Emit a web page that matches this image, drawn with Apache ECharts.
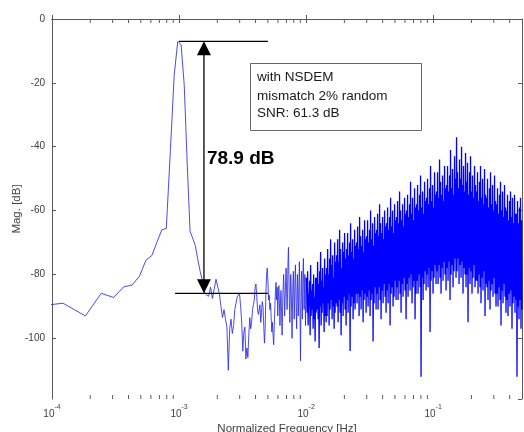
<!DOCTYPE html>
<html>
<head>
<meta charset="utf-8">
<script src="https://cdn.jsdelivr.net/npm/echarts@6/dist/echarts.min.js"></script>
<style>
  html, body { margin: 0; padding: 0; background: #fff; }
  #chart { width: 524px; height: 432px; }
</style>
</head>
<body>
<div id="chart"></div>
<script>
// FFT length of the simulated output (bin k sits at k / fftLength)
const fftLength = 16384;

// Low-frequency bins: noise floor, signal tone and its leakage skirt
const lowBins = [1, 2, 3, 4, 5, 6, 7, 8, 9, 10, 11, 12, 13,
                 14, 15, 16, 17, 18, 19, 20, 21, 22, 23, 24, 25, 26];
const lowMag = [-90.4, -89.0, -93.0, -85.9, -87.2, -83.9, -83.3, -80.5, -75.5, -74.1, -69.8, -66.0, -65.6,
                -41.2, -17.6, -7.0, -8.0, -20.8, -45.5, -66.5, -68.7, -71.0, -75.3, -79.0, -82.0, -85.5];

// Bins 27 .. 164 (one value per bin)
const midStartBin = 27;
const midMag = [
  -86.5, -86.8, -84.0, -87.5, -84.5, -81.5, -81.0, -86.0, -90.0, -93.5,
  -91.0, -94.0, -96.5, -110.0, -97.0, -94.0, -98.5, -96.0, -91.0, -89.0,
  -87.0, -86.5, -86.0, -90.0, -95.0, -104.0, -98.0, -96.5, -106.5, -103.0,
  -106.0, -99.0, -93.5, -97.0, -95.0, -91.0, -89.5, -88.0, -84.0, -83.0,
  -87.0, -91.0, -92.5, -92.0, -89.5, -95.0, -92.0, -88.5, -90.0, -96.0,
  -101.5, -97.0, -86.0, -80.0, -78.0, -82.0, -88.0, -86.5, -91.0, -89.0,
  -93.5, -98.0, -95.0, -99.0, -102.0, -96.0, -90.0, -85.0, -82.5, -88.0,
  -84.0, -93.0, -87.0, -83.5,
  -89, -96, -88, -85, -92, -99, -90, -84, -80, -86,
  -93, -88, -82, -78, -85, -91, -86, -76, -71.5, -80,
  -90, -95, -86, -80, -84, -92, -100, -89, -83, -79,
  -86, -94, -88, -81, -77, -84, -92, -97, -87, -80,
  -85, -93, -89, -82, -76, -83, -95, -107, -92, -84,
  -79, -87, -94, -86, -78, -75, -83, -91, -86, -80,
  -88, -96, -89, -81
];

// Shaped quantisation noise from 0.01 to 0.5, on a log-spaced grid:
// upper and lower excursions of the trace, drawn alternately
const denseStart = 0.01;
const denseEnd = 0.5;
const denseUpper = [
  -84,-79,-86,-82,-77,-85,-83,-80,-87,-81,
  -81,-76,-83,-79,-73,-82,-78,-84,-75,-80,
  -78,-72,-80,-75,-69,-77,-74,-81,-70,-76,
  -74,-69,-76,-66,-72,-78,-70,-73,-67,-75,
  -72,-67,-74,-70,-64,-73,-69,-75,-66,-71,
  -70,-65,-72,-62,-68,-71,-66,-73,-63,-69,
  -68,-63,-70,-66,-60,-69,-64,-71,-62,-67,
  -66,-61,-68,-58,-64,-67,-62,-69,-60,-65,
  -64,-59,-66,-62,-56,-65,-60,-67,-58,-63,
  -62,-57,-64,-54,-60,-63,-58,-65,-56,-61,
  -60,-55,-62,-58,-51,-61,-56,-63,-53,-59,
  -58,-52,-60,-55,-49,-59,-54,-61,-51,-57,
  -56,-50,-58,-53,-46,-57,-52,-59,-48,-55,
  -54,-48,-56,-44,-51,-55,-49,-57,-46,-53,
  -52,-46,-54,-49,-41,-53,-47,-55,-43,-50,
  -37,-48,-53,-44,-50,-40,-52,-46,-54,-42,
  -51,-45,-55,-48,-43,-54,-49,-56,-46,-52,
  -54,-48,-57,-51,-46,-56,-50,-58,-47,-55,
  -56,-50,-59,-53,-48,-58,-52,-60,-49,-57,
  -58,-53,-61,-55,-51,-60,-54,-62,-52,-59,
  -60,-55,-63,-57,-54,-62,-56,-64,-55,-61,
  -61,-57,-64,-59,-56,-63
];
const denseLower = [
  -92,-96,-90,-99,-93,-91,-97,-94,-101,-92,
  -91,-94,-103,-90,-96,-92,-89,-98,-93,-95,
  -93,-89,-96,-91,-88,-94,-90,-97,-92,-89,
  -90,-95,-88,-92,-99,-89,-93,-87,-91,-96,
  -88,-92,-86,-104,-90,-87,-94,-89,-91,-86,
  -89,-86,-93,-87,-91,-85,-95,-88,-86,-92,
  -87,-90,-85,-93,-88,-86,-101,-89,-84,-91,
  -86,-91,-84,-88,-94,-85,-89,-83,-87,-92,
  -85,-89,-83,-96,-86,-84,-90,-87,-82,-88,
  -84,-88,-82,-86,-92,-83,-87,-81,-85,-94,
  -83,-87,-81,-85,-80,-89,-84,-82,-94,-86,
  -82,-86,-80,-84,-112,-81,-88,-83,-79,-85,
  -80,-84,-78,-98,-82,-79,-86,-81,-77,-83,
  -79,-83,-77,-81,-86,-78,-82,-76,-80,-85,
  -78,-82,-76,-88,-80,-77,-84,-79,-75,-81,
  -79,-75,-83,-77,-81,-76,-86,-78,-80,-84,
  -80,-95,-78,-83,-79,-86,-81,-77,-84,-82,
  -82,-86,-80,-84,-89,-81,-85,-79,-93,-83,
  -84,-88,-82,-91,-85,-83,-87,-81,-86,-90,
  -86,-90,-84,-88,-96,-85,-89,-83,-87,-92,
  -88,-93,-86,-90,-85,-97,-89,-87,-92,-88,
  -112,-90,-94,-88,-97,-91
];

// Axis ranges and tick values
const xMin = 1e-4, xMax = 0.5;
const yMin = -119, yMax = 0;
const minorDecades = [1e-4, 1e-3, 1e-2, 1e-1];
const minorFactors = [2, 3, 4, 5, 6, 7, 8, 9];

// Peak-to-floor annotation
const spanDb = 78.9;
const topGuide = [1.0e-3, 5.0e-3];
const bottomGuide = [9.3e-4, 5.0e-3];
const arrowFreq = 1.57e-3;

// Note box text
const noteLines = ['with NSDEM', 'mismatch 2% random', 'SNR: 61.3 dB'];

// ---- build series data ----
const sparse = [];
lowBins.forEach((k, i) => sparse.push([k / fftLength, lowMag[i]]));
midMag.forEach((v, i) => sparse.push([(midStartBin + i) / fftLength, v]));

const dense = [sparse[sparse.length - 1]];
const lg0 = Math.log10(denseStart), lg1 = Math.log10(denseEnd);
const nDense = denseUpper.length * 2;
denseUpper.forEach((u, i) => {
  dense.push([Math.pow(10, lg0 + (lg1 - lg0) * (2 * i + 1) / nDense), u]);
  dense.push([Math.pow(10, lg0 + (lg1 - lg0) * (2 * i + 2) / nDense), denseLower[i]]);
});

const peakDb = Math.max.apply(null, lowMag);
const floorDb = peakDb - spanDb;

const minorTicks = [];
minorDecades.forEach(d => minorFactors.forEach(m => {
  const v = d * m;
  if (v > xMin && v < xMax) minorTicks.push([v, yMin]);
}));

const axisColor = '#5a5a5a';
const labelColor = '#404040';
const tickLen = 4;
const fontFamily = '"Liberation Sans", Arial, sans-serif';

const chart = echarts.init(document.getElementById('chart'), null, { renderer: 'canvas' });

const lineSeries = (name, data, width, color) => ({
  name, type: 'line', data,
  xAxisIndex: 0, yAxisIndex: 0,
  showSymbol: false, symbol: 'none', sampling: null, clip: true,
  lineStyle: { color, width },
  z: 2
});

chart.setOption({
  animation: false,
  backgroundColor: '#ffffff',
  grid: { left: 52, right: 2, top: 19, bottom: 33, containLabel: false, outerBoundsMode: 'none' },
  xAxis: [
    {
      type: 'log', logBase: 10, min: xMin, max: xMax, position: 'bottom',
      name: 'Normalized Frequency [Hz]', nameLocation: 'middle', nameGap: 24, nameMoveOverlap: false,
      nameTextStyle: { color: labelColor, fontSize: 11.5, fontFamily },
      axisLine: { show: true, lineStyle: { color: axisColor, width: 1 } },
      axisTick: { show: true, inside: true, length: tickLen, lineStyle: { color: axisColor } },
      splitLine: { show: false },
      axisLabel: {
        show: true, margin: 5, showMaxLabel: false,
        formatter: v => '{b|10}{s|' + Math.round(Math.log10(v)) + '}',
        rich: {
          b: { fontSize: 10, color: labelColor, fontFamily, lineHeight: 15, verticalAlign: 'bottom' },
          s: { fontSize: 7, color: labelColor, fontFamily, lineHeight: 15, verticalAlign: 'top' }
        }
      }
    },
    {
      type: 'log', logBase: 10, min: xMin, max: xMax, position: 'top',
      axisLine: { show: true, lineStyle: { color: axisColor, width: 1 } },
      axisTick: { show: true, inside: true, length: tickLen, lineStyle: { color: axisColor } },
      axisLabel: { show: false }, splitLine: { show: false }
    }
  ],
  yAxis: [
    {
      type: 'value', min: yMin, max: yMax, splitNumber: 6, minInterval: 20, maxInterval: 20,
      position: 'left',
      name: 'Mag. [dB]', nameLocation: 'middle', nameGap: 29, nameMoveOverlap: false,
      nameTextStyle: { color: labelColor, fontSize: 11.5, fontFamily },
      axisLine: { show: true, lineStyle: { color: axisColor, width: 1 } },
      axisTick: { show: true, inside: true, length: tickLen, lineStyle: { color: axisColor } },
      splitLine: { show: false },
      axisLabel: { show: true, margin: 7, showMinLabel: false, color: labelColor, fontSize: 10, fontFamily }
    },
    {
      type: 'value', min: yMin, max: yMax, splitNumber: 6, minInterval: 20, maxInterval: 20,
      position: 'right',
      axisLine: { show: true, lineStyle: { color: axisColor, width: 1 } },
      axisTick: { show: true, inside: true, length: tickLen, lineStyle: { color: axisColor } },
      axisLabel: { show: false }, splitLine: { show: false }
    }
  ],
  series: [
    lineSeries('spectrum', sparse, 0.85, '#2a2ae6'),
    lineSeries('spectrumDense', dense, 1.3, '#0000ff'),
    {
      // minor log ticks on bottom and top edges
      name: 'minorTicks', type: 'custom', data: minorTicks,
      xAxisIndex: 0, yAxisIndex: 0, silent: true, z: 3,
      renderItem: (params, api) => {
        const v = api.value(0);
        const b = api.coord([v, yMin]);
        const t = api.coord([v, yMax]);
        const st = { stroke: axisColor, lineWidth: 1 };
        return {
          type: 'group', children: [
            { type: 'line', shape: { x1: b[0], y1: b[1], x2: b[0], y2: b[1] - tickLen }, style: st },
            { type: 'line', shape: { x1: t[0], y1: t[1], x2: t[0], y2: t[1] + tickLen }, style: st }
          ]
        };
      }
    },
    {
      // peak-to-floor measurement
      name: 'span', type: 'custom', data: [[arrowFreq, peakDb]],
      xAxisIndex: 0, yAxisIndex: 0, silent: true, z: 5, clip: false,
      renderItem: (params, api) => {
        const t0 = api.coord([topGuide[0], peakDb]);
        const t1 = api.coord([topGuide[1], peakDb]);
        const b0 = api.coord([bottomGuide[0], floorDb]);
        const b1 = api.coord([bottomGuide[1], floorDb]);
        const at = api.coord([arrowFreq, peakDb]);
        const ab = api.coord([arrowFreq, floorDb]);
        const st = { stroke: '#000', lineWidth: 1.3 };
        const hw = 7, hh = 14;
        return {
          type: 'group', children: [
            { type: 'line', shape: { x1: t0[0], y1: t0[1], x2: t1[0], y2: t1[1] }, style: st },
            { type: 'line', shape: { x1: b0[0], y1: b0[1], x2: b1[0], y2: b1[1] }, style: st },
            { type: 'line', shape: { x1: at[0], y1: at[1] + hh - 1, x2: ab[0], y2: ab[1] - hh + 1 }, style: st },
            { type: 'polygon', shape: { points: [[at[0], at[1]], [at[0] - hw, at[1] + hh], [at[0] + hw, at[1] + hh]] }, style: { fill: '#000' } },
            { type: 'polygon', shape: { points: [[ab[0], ab[1]], [ab[0] - hw, ab[1] - hh], [ab[0] + hw, ab[1] - hh]] }, style: { fill: '#000' } },
            {
              type: 'text',
              style: {
                text: spanDb.toFixed(1) + ' dB', x: at[0] + 3, y: (at[1] + ab[1]) / 2 - 9,
                fill: '#000', font: 'bold 19px ' + fontFamily, verticalAlign: 'middle', align: 'left'
              }
            }
          ]
        };
      }
    }
  ],
  graphic: [
    {
      type: 'group', left: 250, top: 63, z: 10,
      children: [
        { type: 'rect', shape: { x: 0.5, y: 0.5, width: 171, height: 67 }, style: { fill: '#fff', stroke: '#666', lineWidth: 1 } },
        { type: 'text', style: { text: noteLines[0], x: 7, y: 14.5, fill: '#1a1a1a', font: '13.5px ' + fontFamily, verticalAlign: 'middle' } },
        { type: 'text', style: { text: noteLines[1], x: 7, y: 33, fill: '#1a1a1a', font: '13.5px ' + fontFamily, verticalAlign: 'middle' } },
        { type: 'text', style: { text: noteLines[2], x: 7, y: 50.5, fill: '#1a1a1a', font: '13.5px ' + fontFamily, verticalAlign: 'middle' } }
      ]
    }
  ]
});
</script>
</body>
</html>
